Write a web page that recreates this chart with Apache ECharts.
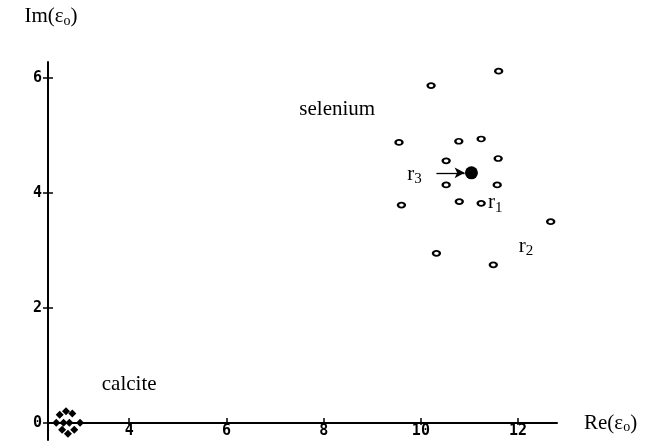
<!DOCTYPE html>
<html>
<head>
<meta charset="utf-8">
<script src="https://cdn.jsdelivr.net/npm/echarts@6/dist/echarts.min.js"></script>
<style>html,body{margin:0;padding:0;background:#fff;}#c{width:652px;height:442px;}</style>
</head>
<body>
<div id="c"></div>
<script>
// Data
const xTicks = [4, 6, 8, 10, 12];
const yTicks = [0, 2, 4, 6];

const seleniumRe = [11.60, 10.21, 12.82, 9.55, 10.78, 11.24, 10.52, 11.59, 10.52, 11.57, 9.60, 10.79, 11.24, 12.67, 10.32, 11.49];
const seleniumIm = [6.12, 5.87, 5.08, 4.88, 4.90, 4.94, 4.56, 4.60, 4.14, 4.14, 3.79, 3.85, 3.82, 3.50, 2.95, 2.75];

const centerRe = [11.04];
const centerIm = [4.35];

const calciteRe = [2.57, 2.70, 2.83, 2.50, 2.65, 2.77, 2.99, 2.62, 2.74, 2.87];
const calciteIm = [0.14, 0.20, 0.16, 0.00, 0.00, 0.00, 0.00, -0.12, -0.19, -0.12];

const noteText = ['selenium', 'calcite', 'r{sub|3}', 'r{sub|1}', 'r{sub|2}'];
const noteRe = [8.28, 4.00, 9.87, 11.53, 12.16];
const noteIm = [5.46, 0.66, 4.33, 3.83, 3.07];

const arrowFrom = [10.32, 4.35];
const arrowTo = [10.90, 4.35];

const zip = (a, b) => a.map((v, i) => [v, b[i]]);

const chart = echarts.init(document.getElementById('c'));
const tickFont = { fontFamily: 'DejaVu Sans Mono', fontWeight: 'bold', fontSize: 15, lineHeight: 14, color: '#000' };
const serif = 'Liberation Serif';
const X_MIN = 2.33, X_MAX = 12.8, Y_MAX = 6.28;

chart.setOption({
  animation: false,
  backgroundColor: '#fff',
  grid: [
    { left: 48, right: 95, top: 62, bottom: 19, containLabel: false, outerBoundsMode: 'none' },
    { left: 48, right: 95, top: 62, bottom: 2, containLabel: false, outerBoundsMode: 'none' }
  ],
  xAxis: [
    {
      gridIndex: 0, type: 'value', min: X_MIN, max: X_MAX, position: 'bottom',
      axisLine: { onZero: false, lineStyle: { color: '#000', width: 2 } },
      axisTick: { show: true, inside: true, length: 5, customValues: xTicks, lineStyle: { color: '#000', width: 1.5 } },
      axisLabel: Object.assign({ margin: 1, customValues: xTicks }, tickFont),
      splitLine: { show: false },
      name: 'Re(ε{sub|o})', nameLocation: 'end', nameGap: 27,
      nameTextStyle: { fontFamily: serif, fontSize: 21, color: '#000', verticalAlign: 'middle',
        rich: { sub: { fontFamily: serif, fontSize: 14, color: '#000', padding: [9, 0, 0, 0] } } }
    },
    {
      gridIndex: 0, type: 'value', min: X_MIN, max: X_MAX, position: 'bottom',
      axisLine: { onZero: false, show: false },
      axisTick: { show: true, inside: false, length: 2, customValues: xTicks, lineStyle: { color: '#000', width: 1.5 } },
      axisLabel: { show: false },
      splitLine: { show: false }
    },
    {
      gridIndex: 1, type: 'value', min: X_MIN, max: X_MAX, show: false
    }
  ],
  yAxis: [
    {
      gridIndex: 0, type: 'value', min: 0, max: Y_MAX, show: false
    },
    {
      gridIndex: 1, type: 'value', min: -0.3, max: Y_MAX, position: 'left',
      axisLine: { onZero: false, lineStyle: { color: '#000', width: 2 } },
      axisTick: { show: true, inside: false, length: 5, customValues: yTicks, lineStyle: { color: '#000', width: 1.5 } },
      axisLabel: Object.assign({ margin: 6, customValues: yTicks }, tickFont),
      splitLine: { show: false },
      name: 'Im(ε{sub|o})', nameLocation: 'end', nameGap: 34,
      nameTextStyle: { fontFamily: serif, fontSize: 21, color: '#000', align: 'center', padding: [0, 0, 0, 6],
        rich: { sub: { fontFamily: serif, fontSize: 14, color: '#000', padding: [9, 0, 0, 0] } } }
    },
    {
      gridIndex: 1, type: 'value', min: -0.3, max: Y_MAX, position: 'left',
      axisLine: { onZero: false, show: false },
      axisTick: { show: true, inside: true, length: 5, customValues: yTicks, lineStyle: { color: '#000', width: 1.5 } },
      axisLabel: { show: false },
      splitLine: { show: false }
    }
  ],
  series: [
    {
      type: 'scatter', name: 'selenium', xAxisIndex: 2, yAxisIndex: 1, data: zip(seleniumRe, seleniumIm),
      symbol: 'circle', symbolSize: [7, 5],
      itemStyle: { color: '#fff', borderColor: '#000', borderWidth: 2, opacity: 1 }
    },
    {
      type: 'scatter', name: 'center', xAxisIndex: 2, yAxisIndex: 1, data: zip(centerRe, centerIm),
      symbol: 'circle', symbolSize: 13,
      itemStyle: { color: '#000', opacity: 1 },
      markLine: {
        silent: true, symbol: ['none', 'arrow'], symbolSize: [8, 10],
        lineStyle: { color: '#000', width: 1.3, type: 'solid', opacity: 1 },
        itemStyle: { color: '#000', opacity: 1 },
        label: { show: false },
        data: [[{ coord: arrowFrom }, { coord: arrowTo }]]
      }
    },
    {
      type: 'scatter', name: 'calcite', xAxisIndex: 2, yAxisIndex: 1, data: zip(calciteRe, calciteIm),
      symbol: 'diamond', symbolSize: [8, 8], clip: false,
      itemStyle: { color: '#000', opacity: 1 }
    },
    {
      type: 'scatter', name: 'notes', xAxisIndex: 2, yAxisIndex: 1,
      data: noteText.map((t, i) => ({ value: [noteRe[i], noteIm[i]], name: t })),
      symbolSize: 0,
      itemStyle: { opacity: 1 },
      label: {
        show: true, position: 'inside', formatter: p => p.name,
        fontFamily: serif, fontSize: 21, color: '#000', align: 'center', verticalAlign: 'middle',
        textBorderWidth: 0, textBorderColor: 'transparent',
        rich: { sub: { fontFamily: serif, fontSize: 15, color: '#000', padding: [10, 0, 0, 0], textBorderWidth: 0 } }
      }
    }
  ]
});
</script>
</body>
</html>
